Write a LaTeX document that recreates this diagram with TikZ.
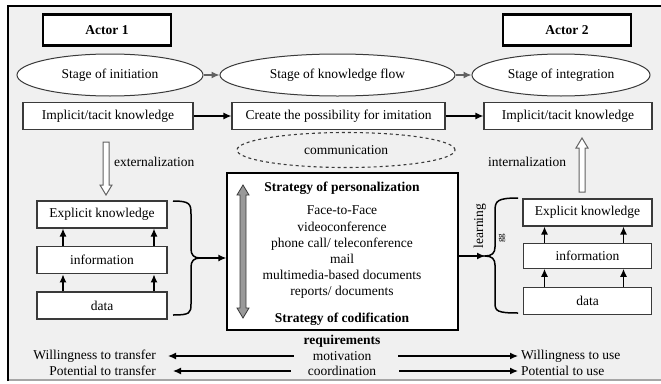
\documentclass[tikz,border=0pt]{standalone}
\usepackage{fontspec}
\setmainfont{Liberation Serif}
\usepackage{tikz}
\usetikzlibrary{arrows.meta}
\usetikzlibrary{positioning}
\usetikzlibrary{shapes.geometric}
\definecolor{bggray}{HTML}{F0F0F0}
\definecolor{edge}{HTML}{3A3A3A}
\newcommand{\figsize}{\fontsize{13.5}{16.2}\selectfont}
\tikzset{box/.style = {draw=edge, fill=white, line width=1.2, inner sep=0, minimum width=130, minimum height=27}}
\tikzset{actor/.style = {draw=black, fill=white, line width=2.2, inner sep=0, minimum width=128, minimum height=31, font=\figsize\bfseries}}
\tikzset{stage/.style = {draw=edge, fill=white, ellipse, line width=1, inner sep=0, minimum height=42}}
\tikzset{arr/.style = {-{Latex[length=8,width=7]}, line width=1.3}}
\tikzset{hollow/.style = {draw=edge!80, fill=white, line width=1}}
\tikzset{brc/.style = {line width=1.5}}
\tikzset{lbl/.style = {inner sep=1}}
\tikzset{bold/.style = {inner sep=1, font=\figsize\bfseries}}

\begin{document}
\begin{tikzpicture}[x=1pt, y=-1pt, font=\figsize]
        \useasboundingbox (0,0) rectangle (661,383);
        % frame
        \fill [bggray] (8,6) rectangle (661,380);
        \draw [black!35, line width=1.5] (8,380) -- (661,380);
        \draw [line width=2.5] (8,381) -- (8,6) -- (661,6);
        % actors and stages
        \node [actor] (actor1) at (107,30) {Actor 1};
        \node [actor] (actor2) at (567,30) {Actor 2};
        \node [stage, minimum width=186] (init) at (110,75) {Stage of initiation};
        \node [stage, minimum width=235] (flow) at (337.5,75) {Stage of knowledge flow};
        \node [stage, minimum width=178] (integ) at (561,75) {Stage of integration};
        \draw [arr, edge!80, line width=1.2] (init) -- (flow);
        \draw [arr, edge!80, line width=1.2] (flow) -- (integ);
        % tacit knowledge row
        \node [box, minimum width=170] (impl1) at (108,116) {Implicit/tacit knowledge};
        \node [box, minimum width=213] (create) at (338.5,116) {Create the possibility for imitation};
        \node [box, minimum width=168] (impl2) at (568,116) {Implicit/tacit knowledge};
        \draw [arr] (impl1) -- (create);
        \draw [arr] (create) -- (impl2);
        \node [draw=edge, dashed, ellipse, line width=1.1, minimum width=218, minimum height=35, inner sep=0] (comm) at (346,150) {communication};
        % actor 1 stack
        \node [box] (exp1) at (102,214.5) {Explicit knowledge};
        \node [box, line width=1.8, below=17pt of exp1] (inf1) {information};
        \node [box, below=17pt of inf1] (dat1) {data};
        \draw [arr] ([xshift=-39pt]inf1.north) -- ([xshift=-39pt]exp1.south);
        \draw [arr] ([xshift=52pt]inf1.north) -- ([xshift=52pt]exp1.south);
        \draw [arr] ([xshift=-39pt]dat1.north) -- ([xshift=-39pt]inf1.south);
        \draw [arr] ([xshift=52pt]dat1.north) -- ([xshift=52pt]inf1.south);
        \draw [hollow] (103,142) -- (109,142) -- (109,185) -- (112,185) -- (106,195) -- (100,185) -- (103,185) -- cycle;
        \node [lbl, anchor=west] (extl) at (113,162) {externalization};
        % media box
        \node [draw=black, fill=white, line width=1.3, minimum width=231, minimum height=157, inner sep=0] (media) at (342.5,251.5) {};
        \node [bold] (pers) at (342,188) {Strategy of personalization};
        \node [lbl, align=center] (tools) at (342,252.5) {Face-to-Face\\videoconference\\phone call/ teleconference\\mail\\multimedia-based documents\\reports/ documents};
        \node [bold] (codif) at (342,319) {Strategy of codification};
        \draw [draw=edge, fill=black!40, line width=0.8] (243,185) -- (249,195) -- (246,195) -- (246,308) -- (249,308) -- (243,318) -- (237,308) -- (240,308) -- (240,195) -- (237,195) -- cycle;
        % braces
        \draw [brc] (173,201) .. controls (190,201) and (191,204) .. (191,214) -- (191,249) .. controls (191,255) and (194,258) .. (200,258) .. controls (194,258) and (191,261) .. (191,267) -- (191,304) .. controls (191,313) and (190,315) .. (173,315);
        \coordinate (lbt) at (200,258);
        \draw [arr] (lbt) -- (lbt -| media.west);
        \draw [brc] (518,198) .. controls (497,198) and (495,201) .. (495,211) -- (495,247) .. controls (495,253) and (492,256) .. (485,256) .. controls (492,256) and (495,259) .. (495,265) -- (495,303) .. controls (495,311) and (497,313) .. (518,313);
        \coordinate (rbt) at (485,256);
        \draw [arr] (rbt -| media.east) -- (rbt);
        \node [lbl, rotate=90] (learn) at (480,226) {learning};
        \node [lbl, rotate=90, font=\fontsize{9}{9}\selectfont] (gg) at (502,238) {gg};
        % actor 2 stack
        \node [box, minimum width=129] (exp2) at (587.5,212.5) {Explicit knowledge};
        \node [box, minimum width=128, minimum height=25, below=16pt of exp2] (inf2) {information};
        \node [box, minimum width=128, below=18pt of inf2] (dat2) {data};
        \draw [arr] ([xshift=-43pt]inf2.north) -- ([xshift=-43pt]exp2.south);
        \draw [arr] ([xshift=36pt]inf2.north) -- ([xshift=36pt]exp2.south);
        \draw [arr] ([xshift=-43pt]dat2.north) -- ([xshift=-43pt]inf2.south);
        \draw [arr] ([xshift=36pt]dat2.north) -- ([xshift=36pt]inf2.south);
        \draw [hollow] (579,192) -- (585,192) -- (585,148) -- (588,148) -- (582,138) -- (576,148) -- (579,148) -- cycle;
        \node [lbl] (intl) at (527,162) {internalization};
        % requirements
        \node [bold] (req) at (342,341) {requirements};
        \node [lbl] (mot) at (342,356) {motivation};
        \node [lbl] (coor) at (342,371) {coordination};
        \node [lbl, anchor=east] (wt) at (157,356) {Willingness to transfer};
        \node [lbl, anchor=east] (pt) at (157,371) {Potential to transfer};
        \node [lbl, anchor=west] (wu) at (520,356) {Willingness to use};
        \node [lbl, anchor=west] (pu) at (520,371) {Potential to use};
        \draw [arr, shorten <=18, shorten >=11] (mot) -- (wt);
        \draw [arr, shorten <=26, shorten >=2] (mot) -- (wu);
        \draw [arr, shorten <=16, shorten >=16] (coor) -- (pt);
        \draw [arr, shorten <=22, shorten >=2] (coor) -- (pu);
\end{tikzpicture}
\end{document}
